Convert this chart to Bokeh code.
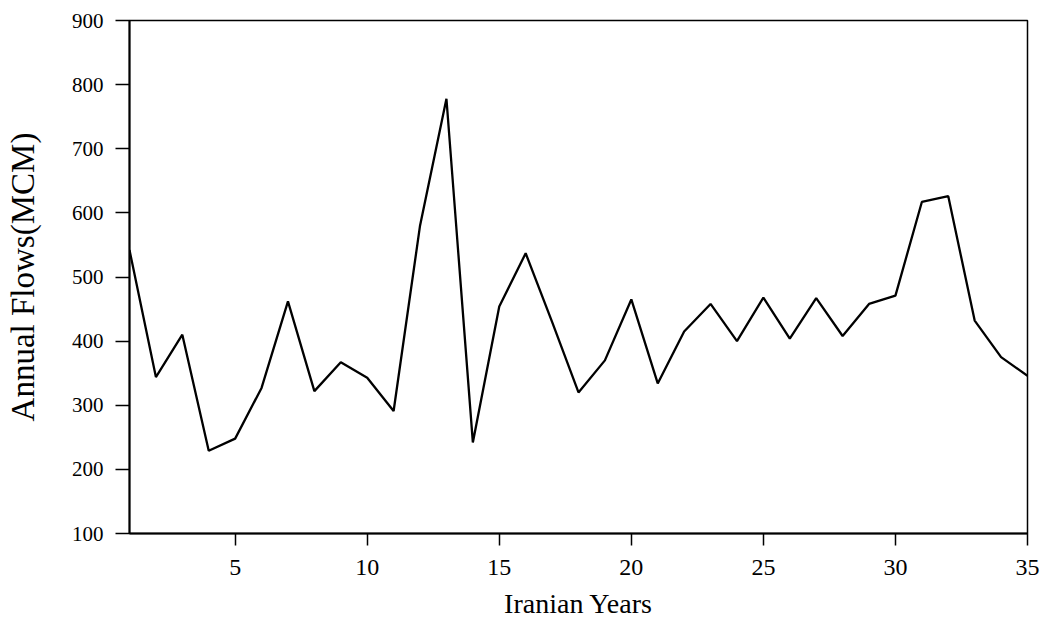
from bokeh.plotting import figure
from bokeh.models import FixedTicker, Range1d
from bokeh.embed import file_html
from bokeh.resources import INLINE

years = list(range(1, 36))
flows = [542, 344, 410, 229, 248, 327, 462, 322, 367, 343,
         291, 580, 778, 242, 454, 537, 430, 320, 370, 465,
         334, 415, 458, 400, 468, 404, 467, 408, 458, 471,
         617, 626, 432, 375, 346]
x_ticks = [5, 10, 15, 20, 25, 30, 35]
y_ticks = [100, 200, 300, 400, 500, 600, 700, 800, 900]

FONT = "Liberation Serif"

p = figure(width=1047, height=629, output_backend="svg", toolbar_location=None,
           x_range=Range1d(1, 35), y_range=Range1d(100, 900),
           min_border_left=129, min_border_right=20, min_border_top=20,
           min_border_bottom=96)
p.background_fill_color = "white"
p.border_fill_color = "white"
p.outline_line_color = "black"
p.outline_line_width = 1.5
p.grid.visible = False

p.line(years, flows, line_color="black", line_width=2.3)

p.xaxis.ticker = FixedTicker(ticks=x_ticks)
p.yaxis.ticker = FixedTicker(ticks=y_ticks)
for ax in (p.xaxis, p.yaxis):
    ax.axis_line_color = "black"
    ax.axis_line_width = 2
    ax.major_tick_line_color = "black"
    ax.major_tick_line_width = 1.5
    ax.major_tick_in = 0
    ax.minor_tick_line_color = None
    ax.major_label_text_font = FONT
    ax.major_label_text_color = "black"
    ax.axis_label_text_font = FONT
    ax.axis_label_text_font_style = "normal"
    ax.axis_label_text_color = "black"

p.xaxis.major_tick_out = 12
p.yaxis.major_tick_out = 14
p.xaxis.major_label_text_font_size = "24px"
p.yaxis.major_label_text_font_size = "21px"
p.xaxis.major_label_standoff = 14
p.yaxis.major_label_standoff = 12
p.xaxis.axis_label = "Iranian Years"
p.yaxis.axis_label = "Annual Flows(MCM)"
p.xaxis.axis_label_text_font_size = "28px"
p.yaxis.axis_label_text_font_size = "33px"
p.xaxis.axis_label_standoff = 10
p.yaxis.axis_label_standoff = 28

open("out.html", "w").write(file_html(p, INLINE))
